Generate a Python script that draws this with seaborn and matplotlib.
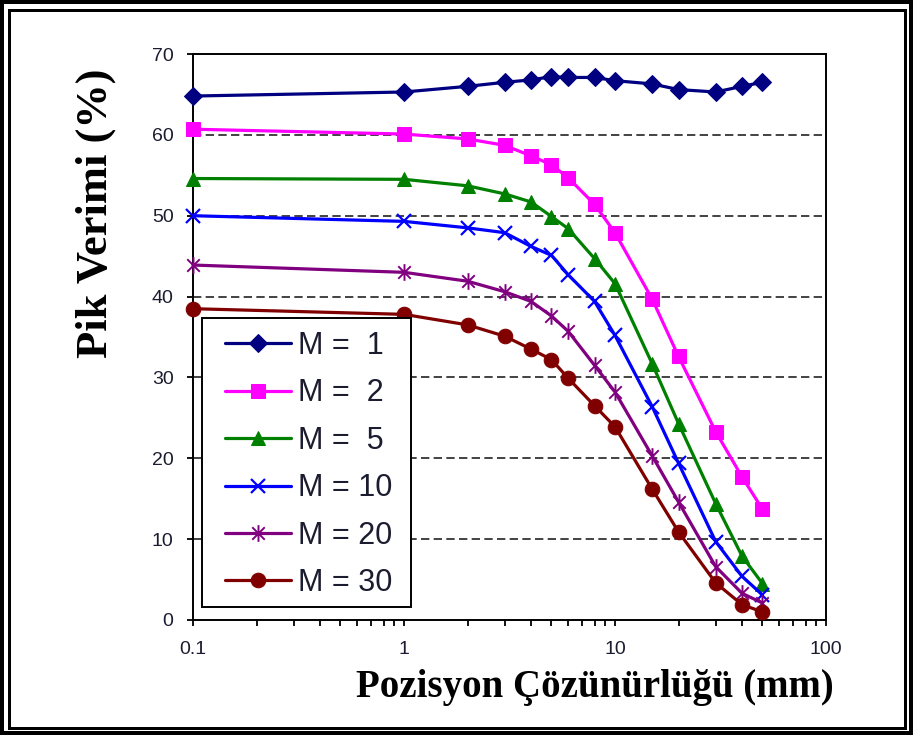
import numpy as np
import pandas as pd
import matplotlib
matplotlib.use("Agg")
import matplotlib.pyplot as plt
import seaborn as sns
from matplotlib.path import Path
from matplotlib.patches import Rectangle
from matplotlib.ticker import LogLocator, FixedLocator, NullFormatter

# Position resolution (mm) shared by every series
resolution = [0.1, 1, 2, 3, 4, 5, 6, 8, 10, 15, 20, 30, 40, 50]

# Peak efficiency (%) for each multiplicity M
eff_m1 = [64.8, 65.3, 66.0, 66.5, 66.8, 67.2, 67.1, 67.1, 66.7, 66.3, 65.6, 65.3, 66.0, 66.5]
eff_m2 = [60.7, 60.1, 59.5, 58.7, 57.4, 56.3, 54.7, 51.4, 47.9, 39.7, 32.6, 23.3, 17.7, 13.7]
eff_m5 = [54.6, 54.5, 53.7, 52.7, 51.7, 49.9, 48.4, 44.7, 41.6, 31.7, 24.3, 14.4, 7.9, 4.5]
eff_m10 = [50.0, 49.3, 48.5, 47.9, 46.2, 45.1, 42.7, 39.4, 35.2, 26.4, 19.4, 9.7, 5.4, 3.1]
eff_m20 = [43.9, 43.0, 41.9, 40.6, 39.4, 37.6, 35.7, 31.5, 28.2, 20.3, 14.6, 6.6, 3.3, 2.1]
eff_m30 = [38.5, 37.8, 36.5, 35.1, 33.5, 32.2, 29.9, 26.5, 23.9, 16.2, 10.9, 4.6, 1.9, 1.0]

series_labels = ["M =  1", "M =  2", "M =  5", "M = 10", "M = 20", "M = 30"]
series_values = [eff_m1, eff_m2, eff_m5, eff_m10, eff_m20, eff_m30]

y_ticks = [0, 10, 20, 30, 40, 50, 60, 70]
x_ticks = [0.1, 1, 10, 100]
x_tick_labels = ["0.1", "1", "10", "100"]

# Excel-style star: an x with a vertical stroke
star = Path([(0, -1), (0, 1), (-0.75, -0.75), (0.75, 0.75), (-0.75, 0.75), (0.75, -0.75)],
            [Path.MOVETO, Path.LINETO, Path.MOVETO, Path.LINETO, Path.MOVETO, Path.LINETO])

styles = [
    dict(color="#000080", marker="D", markersize=9),
    dict(color="#FF00FF", marker="s", markersize=10),
    dict(color="#008000", marker="^", markersize=10.5),
    dict(color="#0000FF", marker="x", markersize=9.5, markeredgewidth=1.6),
    dict(color="#800080", marker=star, markersize=12, markeredgewidth=1.4),
    dict(color="#800000", marker="o", markersize=10.5),
]

frames = []
for lab, vals in zip(series_labels, series_values):
    frames.append(pd.DataFrame({"res": resolution, "eff": vals, "M": lab}))
df = pd.concat(frames, ignore_index=True)

sns.set_theme(style="white")
plt.rcParams["font.family"] = ["Liberation Sans", "DejaVu Sans"]

W, H = 913, 735
fig = plt.figure(figsize=(W / 100, H / 100), dpi=100)
fig.patch.set_facecolor("white")
ax = fig.add_axes([193 / W, 1 - 620 / H, (826 - 193) / W, (620 - 54) / H])
ax.set_facecolor("white")

for lab, st in zip(series_labels, styles):
    sub = df[df["M"] == lab]
    sns.lineplot(data=sub, x="res", y="eff", ax=ax, label=lab, linewidth=2.3,
                 estimator=None, sort=False, clip_on=False, zorder=3, legend=False,
                 markeredgecolor=st["color"], **st)

ax.set_xscale("log")
ax.set_xlim(0.1, 100)
ax.set_ylim(0, 70)

# dashed horizontal gridlines
for yv in y_ticks[1:-1]:
    ax.axhline(yv, color="#222222", lw=1.2, dashes=(5, 2.6), zorder=1)

ax.xaxis.set_major_locator(FixedLocator(x_ticks))
ax.set_xticklabels(x_tick_labels)
ax.xaxis.set_minor_locator(LogLocator(base=10, subs=np.arange(2, 10)))
ax.xaxis.set_minor_formatter(NullFormatter())
ax.set_yticks(y_ticks)
ax.set_yticklabels([str(v) for v in y_ticks])

label_color = "#1c1c30"
ax.tick_params(axis="both", which="both", direction="out", length=4, width=1.3,
               colors="black", labelcolor=label_color, labelsize=14)
ax.tick_params(axis="x", which="both", bottom=True, top=False, pad=11)
ax.tick_params(axis="y", which="both", left=True, right=False, pad=10)
for sp in ax.spines.values():
    sp.set_visible(True)
    sp.set_color("black")
    sp.set_linewidth(1.4)
ax.set_xlabel("")
ax.set_ylabel("")

# legend box with white background, drawn over the data
x0 = (202 - 193) / 633
y0 = (620 - 607) / 566
ax.add_patch(Rectangle((x0, y0), 209 / 633, 289 / 566, transform=ax.transAxes,
                       facecolor="white", edgecolor="black", lw=1.4, zorder=5))
handles = ax.get_lines()[:len(series_labels)]
leg = ax.legend(handles, series_labels, loc="upper left",
                bbox_to_anchor=((225 - 193) / 633, (620 - 331) / 566),
                frameon=False, borderpad=0, borderaxespad=0,
                handlelength=2.15, handletextpad=0.25, labelspacing=0.57,
                prop={"family": "Liberation Sans", "size": 22})
leg.set_zorder(6)
for t in leg.get_texts():
    t.set_color(label_color)

serif = ["Liberation Serif", "DejaVu Serif"]
fig.text(96 / W, 1 - 213 / H, "Pik Verimi (%)", rotation=90, ha="center", va="center",
         family=serif, weight="bold", size=32, color="black")
fig.text(595 / W, 1 - 697 / H, "Pozisyon Çözünürlüğü (mm)", ha="center", va="baseline",
         family=serif, weight="bold", size=28, color="black")

# double border around the figure
fig.add_artist(Rectangle((2 / W, 2 / H), (W - 4) / W, (H - 4) / H, transform=fig.transFigure,
                         fill=False, edgecolor="black", lw=4 * 0.72))
fig.add_artist(Rectangle((9 / W, 7.5 / H), (W - 17) / W, (H - 17) / H, transform=fig.transFigure,
                         fill=False, edgecolor="black", lw=3 * 0.72))

fig.savefig("out.png", dpi=100, facecolor="white")
